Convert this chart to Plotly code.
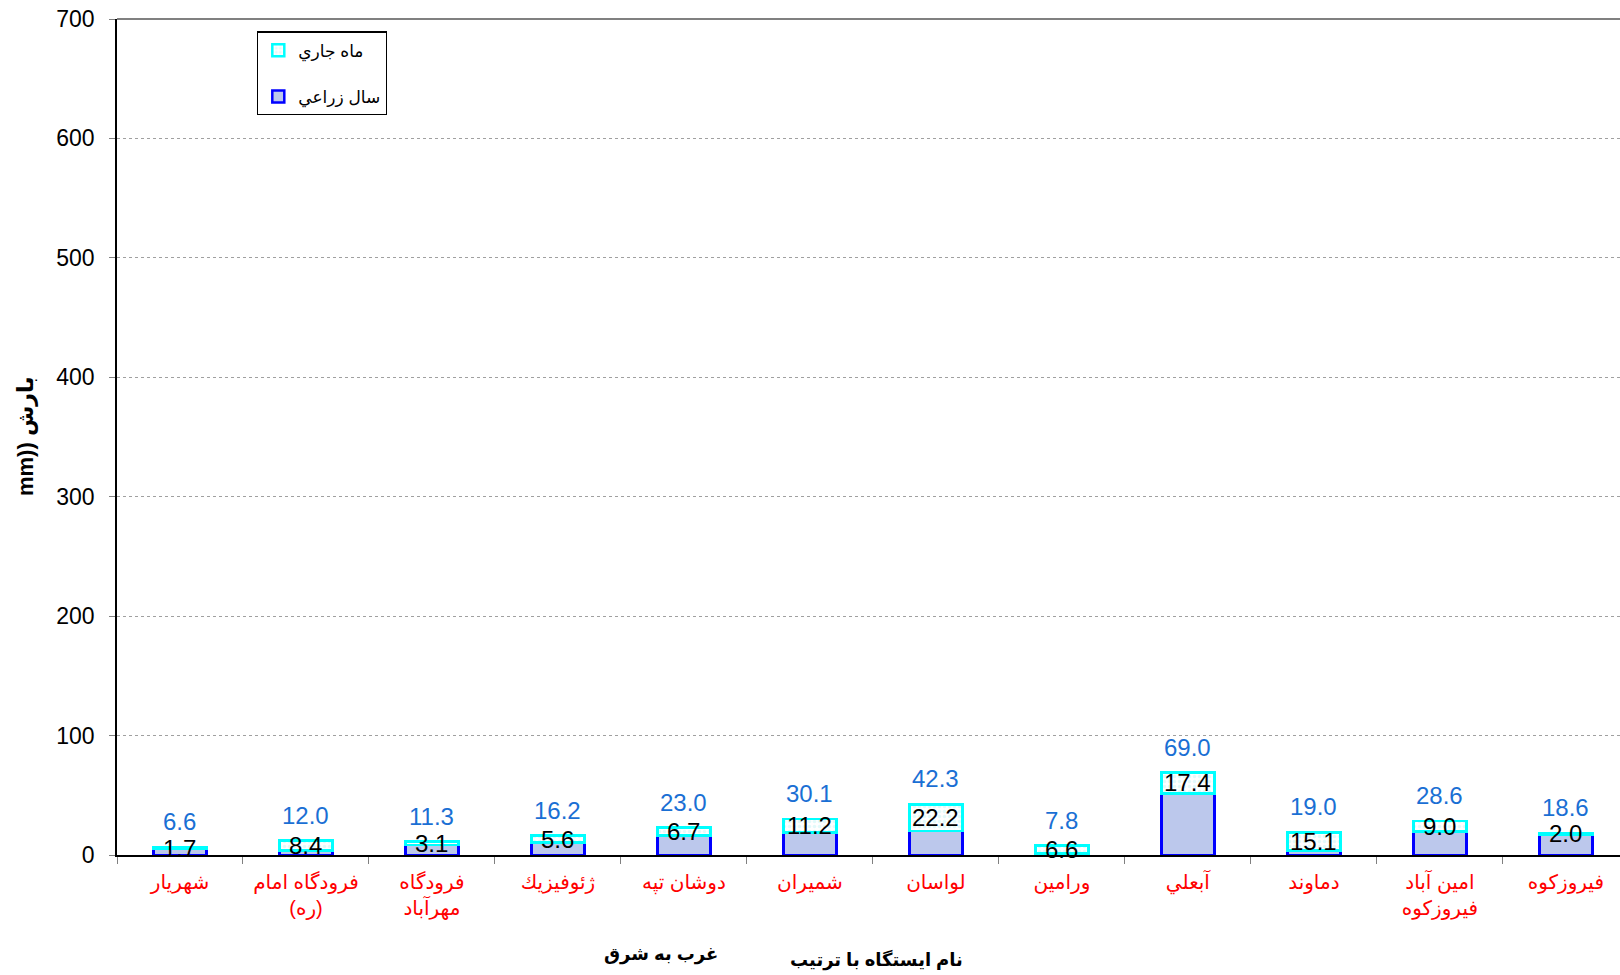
import plotly.graph_objects as go

stations = ["شهريار", "فرودگاه امام (ره)", "فرودگاه مهرآباد", "ژئوفيزيك", "دوشان تپه",
            "شميران", "لواسان", "ورامين", "آبعلي", "دماوند", "امين آباد فيروزكوه", "فيروزكوه"]
station_labels = ["شهريار", "فرودگاه امام<br>(ره)", "فرودگاه<br>مهرآباد", "ژئوفيزيك", "دوشان تپه",
                  "شميران", "لواسان", "ورامين", "آبعلي", "دماوند", "امين آباد<br>فيروزكوه", "فيروزكوه"]
month_vals = [1.7, 8.4, 3.1, 5.6, 6.7, 11.2, 22.2, 6.6, 17.4, 15.1, 9.0, 2.0]
year_totals = [6.6, 12.0, 11.3, 16.2, 23.0, 30.1, 42.3, 7.8, 69.0, 19.0, 28.6, 18.6]
y_ticks = [0, 100, 200, 300, 400, 500, 600, 700]

base_vals = [round(t - m, 1) for t, m in zip(year_totals, month_vals)]

FONT = "Arial, Liberation Sans, DejaVu Sans, sans-serif"

fig = go.Figure()
fig.add_trace(go.Bar(
    x=stations, y=base_vals, name="سال زراعي", width=0.42,
    marker=dict(color="#bcc8ec", line=dict(color="#0000ff", width=2.5)),
    legendgroup="b", legendrank=2, hoverinfo="skip",
))
fig.add_trace(go.Bar(
    x=stations, y=month_vals, name="ماه جاري", width=0.42,
    marker=dict(color="#ffffff", line=dict(color="#00ffff", width=2.5),
                pattern=dict(shape=".", fgcolor="#c6f6f6", bgcolor="#ffffff", size=5, solidity=0.4)),
    legendgroup="a", legendrank=1, hoverinfo="skip",
))

annotations = []
for s, t, m, b in zip(stations, year_totals, month_vals, base_vals):
    annotations.append(dict(x=s, y=t, xref="x", yref="y", text=f"{t:.1f}", showarrow=False,
                            yanchor="bottom", yshift=10,
                            font=dict(family=FONT, size=24, color="#1a6fd4")))
    annotations.append(dict(x=s, y=b + m / 2, xref="x", yref="y", text=f"{m:.1f}", showarrow=False,
                            yanchor="middle",
                            font=dict(family=FONT, size=24, color="#000000")))

annotations.append(dict(x=-(117 - 25) / 1503, y=0.5, xref="paper", yref="paper", text="<b>mm)) بارش</b>",
                        textangle=-90, showarrow=False, xanchor="center", yanchor="middle",
                        font=dict(family=FONT, size=22, color="#000000")))
annotations.append(dict(x=(661 - 117) / 1503, y=-(955 - 855.5) / 837, xref="paper", yref="paper",
                        text="<b>غرب به شرق</b>", showarrow=False, xanchor="center", yanchor="middle",
                        font=dict(family=FONT, size=18, color="#000000")))
annotations.append(dict(x=(876 - 117) / 1503, y=-(961 - 855.5) / 837, xref="paper", yref="paper",
                        text="<b>نام ايستگاه با ترتيب</b>", showarrow=False, xanchor="center", yanchor="middle",
                        font=dict(family=FONT, size=18, color="#000000")))

fig.update_layout(
    width=1620, height=975,
    margin=dict(l=117, r=0, t=19, b=119.5),
    paper_bgcolor="white", plot_bgcolor="white",
    barmode="stack",
    showlegend=True,
    legend=dict(x=(257 - 117) / 1503, y=(855.5 - 31) / 837, xanchor="left", yanchor="top",
                bgcolor="white", bordercolor="#000000", borderwidth=1.3,
                font=dict(family=FONT, size=17, color="#000000"),
                traceorder="grouped", tracegroupgap=21),
    annotations=annotations,
    shapes=[dict(type="line", xref="paper", yref="paper", x0=0, x1=1, y0=1, y1=1,
                 line=dict(color="#808080", width=2))],
    font=dict(family=FONT),
)

fig.update_xaxes(
    type="category", categoryorder="array", categoryarray=stations,
    tickvals=stations, ticktext=station_labels,
    range=[-0.5, 11.43],
    tickson="boundaries", ticks="outside", ticklen=7, tickcolor="#808080",
    showline=True, linecolor="#000000", linewidth=1.5,
    showgrid=False, zeroline=False,
    tickfont=dict(family=FONT, size=20, color="#ff0000"),
    ticklabelstandoff=8,
)
fig.update_yaxes(
    range=[0, 700], tickvals=y_ticks, ticks="outside", ticklen=6, tickcolor="#808080",
    showline=True, linecolor="#000000", linewidth=1.5,
    showgrid=True, gridcolor="#a0a0a0", griddash="dot", gridwidth=1,
    zeroline=False,
    tickfont=dict(family=FONT, size=23, color="#000000"),
    ticklabelstandoff=10,
)

fig.write_html("out.html", config={"displayModeBar": False},
               post_script="document.body.style.margin='0';document.body.style.padding='0';")
